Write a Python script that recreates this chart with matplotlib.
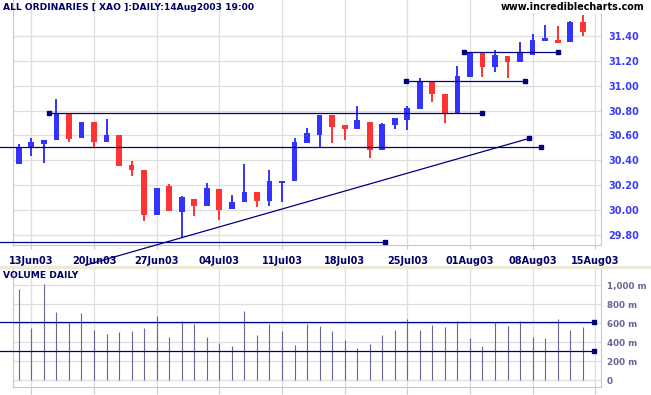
import numpy as np
import pandas as pd
import matplotlib
matplotlib.use('Agg')
import matplotlib.pyplot as plt
from matplotlib.patches import Rectangle

# trading days shown on the chart
dates = pd.bdate_range('2003-06-12', '2003-08-14')

opens  = [30.37, 30.50, 30.53, 30.56, 30.77, 30.58, 30.71, 30.55, 30.60, 30.36,
          30.32, 29.96, 30.19, 29.98, 30.09, 30.03, 30.17, 30.01, 30.06, 30.14,
          30.07, 30.22, 30.23, 30.54, 30.60, 30.76, 30.68, 30.65, 30.71, 30.48,
          30.68, 30.72, 30.81, 31.04, 30.93, 30.78, 31.07, 31.27, 31.15, 31.24,
          31.19, 31.25, 31.36, 31.37, 31.35, 31.51]
highs  = [30.53, 30.58, 30.56, 30.89, 30.77, 30.71, 30.71, 30.73, 30.60, 30.39,
          30.32, 30.18, 30.21, 30.11, 30.09, 30.22, 30.17, 30.12, 30.37, 30.14,
          30.32, 30.23, 30.58, 30.66, 30.76, 30.76, 30.68, 30.84, 30.71, 30.70,
          30.74, 30.84, 31.06, 31.04, 30.93, 31.16, 31.27, 31.27, 31.29, 31.24,
          31.35, 31.42, 31.49, 31.48, 31.52, 31.57]
lows   = [30.37, 30.43, 30.38, 30.56, 30.55, 30.58, 30.51, 30.55, 30.35, 30.27,
          29.91, 29.96, 29.99, 29.77, 29.95, 30.03, 29.92, 30.01, 30.06, 30.02,
          30.03, 30.06, 30.23, 30.54, 30.51, 30.54, 30.56, 30.65, 30.42, 30.48,
          30.65, 30.64, 30.81, 30.87, 30.70, 30.78, 31.07, 31.07, 31.11, 31.06,
          31.19, 31.25, 31.36, 31.34, 31.35, 31.40]
closes = [30.51, 30.55, 30.56, 30.78, 30.57, 30.71, 30.55, 30.60, 30.35, 30.32,
          29.96, 30.18, 29.99, 30.10, 30.03, 30.18, 30.00, 30.06, 30.14, 30.07,
          30.23, 30.23, 30.55, 30.62, 30.76, 30.67, 30.65, 30.72, 30.48, 30.69,
          30.74, 30.82, 31.04, 30.93, 30.77, 31.08, 31.27, 31.15, 31.25, 31.19,
          31.26, 31.37, 31.38, 31.34, 31.51, 31.43]
volume = [958, 547, 1011, 716, 607, 709, 526, 484, 509, 519,
          547, 674, 453, 621, 593, 453, 389, 358, 726, 474,
          593, 519, 368, 593, 568, 516, 421, 337, 379, 474,
          526, 642, 526, 579, 558, 621, 442, 358, 611, 568,
          621, 453, 442, 642, 526, 558]  # millions

date_labels = ['13Jun03', '20Jun03', '27Jun03', '04Jul03', '11Jul03',
               '18Jul03', '25Jul03', '01Aug03', '08Aug03', '15Aug03']
price_ticks = [29.8, 30.0, 30.2, 30.4, 30.6, 30.8, 31.0, 31.2, 31.4]
vol_ticks = [0, 200, 400, 600, 800, 1000]
vol_labels = ['0', '200 m', '400 m', '600 m', '800 m', '1,000 m']

# drawn-in support/resistance lines: (price, start day, end day, left marker)
h_lines = [(30.778, 2.4, 37.0, True),
           (30.504, -1.5, 41.7, False),
           (29.739, -1.5, 29.2, False),
           (31.268, 35.5, 43.0, True),
           (31.038, 30.88, 40.4, True)]
trend = ([5.36, 40.74], [29.556, 30.576])
vol_lines = [607, 305]

BLUE = '#3333ff'
RED = '#ff3333'
NAVY = '#000080'
GRID = '#dedede'
FRAME = '#c8c8c8'

W, H = 651, 395
fig = plt.figure(figsize=(W / 100, H / 100), dpi=100)
ax = fig.add_axes([12.7 / W, 1 - 245 / H, (601 - 12.7) / W, 245 / H])
axv = fig.add_axes([12.7 / W, 1 - 386.7 / H, (601 - 12.7) / W, (386.7 - 268) / H])

x = np.arange(len(dates))
o = np.array(opens); c = np.array(closes)
hi = np.array(highs); lo = np.array(lows)
cols = [BLUE if cc >= oo else RED for oo, cc in zip(o, c)]

# candles
ax.vlines(x, lo, hi, colors=cols, lw=1.4, zorder=3)
body = np.maximum(np.abs(c - o), 0.012)
ax.bar(x, body, bottom=np.minimum(o, c), width=0.46, color=cols, zorder=4)

# lines
for p, x0, x1, lm in h_lines:
    ax.plot([x0, x1], [p, p], color=NAVY, lw=0.9, clip_on=False, zorder=5)
    ax.plot([x1], [p], 's', color=NAVY, ms=2.2, clip_on=False, zorder=5)
    if lm:
        ax.plot([x0], [p], 's', color=NAVY, ms=2.2, clip_on=False, zorder=5)
ax.plot(trend[0], trend[1], color=NAVY, lw=0.9, clip_on=False, zorder=5)
ax.plot([trend[0][1]], [trend[1][1]], 's', color=NAVY, ms=2.2, zorder=5)

fri = [i for i, d in enumerate(pd.bdate_range('2003-06-12', '2003-08-15')) if d.weekday() == 4]

xl = (-0.49, 46.46)
ax.set_xlim(*xl)
ax.set_ylim(29.7172, 31.6899)
ax.set_xticks(fri)
ax.set_xticklabels(date_labels, fontsize=7, fontweight='bold', color='#000066')
ax.set_yticks(price_ticks)
ax.set_yticklabels(['%.2f' % p for p in price_ticks], fontsize=7,
                   fontweight='bold', color='#3c3cff')
ax.yaxis.tick_right()
ax.tick_params(axis='x', length=3, color=FRAME, pad=5)
ax.tick_params(axis='y', length=0, pad=5)
ax.grid(True, color=GRID, lw=0.9, zorder=0)
ax.set_axisbelow(True)
ax.spines['top'].set_visible(False)
for s in ['left', 'right', 'bottom']:
    ax.spines[s].set_color(FRAME)

# volume
axv.vlines(x, 0, volume, colors='#666699', lw=0.8, zorder=3)
for v in vol_lines:
    axv.plot([-1.5, 45.9], [v, v], color=NAVY, lw=0.9, clip_on=False, zorder=5)
    axv.plot([45.9], [v], 's', color=NAVY, ms=2.2, zorder=5)
axv.set_xlim(*xl)
axv.set_ylim(-70.5, 1179)
axv.set_xticks(fri)
axv.set_xticklabels([])
axv.set_yticks(vol_ticks)
axv.set_yticklabels(vol_labels, fontsize=6.3, fontweight='bold', color='#666699')
axv.yaxis.tick_right()
axv.tick_params(axis='x', length=5, color=FRAME)
axv.tick_params(axis='y', length=0, pad=4)
axv.grid(True, color=GRID, lw=0.9, zorder=0)
axv.set_axisbelow(True)
axv.spines['top'].set_visible(False)
for s in ['left', 'right', 'bottom']:
    axv.spines[s].set_color(FRAME)

# panel separator
fig.patches.append(Rectangle((0, 1 - 268 / H), 1, 2.5 / H, transform=fig.transFigure,
                             color='#ece9d8', zorder=0))

fig.text(3 / W, 1 - 7 / H, 'ALL ORDINARIES [ XAO ]:DAILY:14Aug2003 19:00',
         fontsize=6.6, fontweight='bold', color='#000066', va='center', ha='left')
fig.text(644 / W, 1 - 7 / H, 'www.incrediblecharts.com', fontsize=6.9,
         fontweight='bold', color='black', va='center', ha='right',
         bbox=dict(facecolor='white', edgecolor='none', pad=0.5))
fig.text(3 / W, 1 - 275 / H, 'VOLUME DAILY', fontsize=6.6, fontweight='bold',
         color='#000066', va='center', ha='left')

fig.savefig('out.png', dpi=100)
